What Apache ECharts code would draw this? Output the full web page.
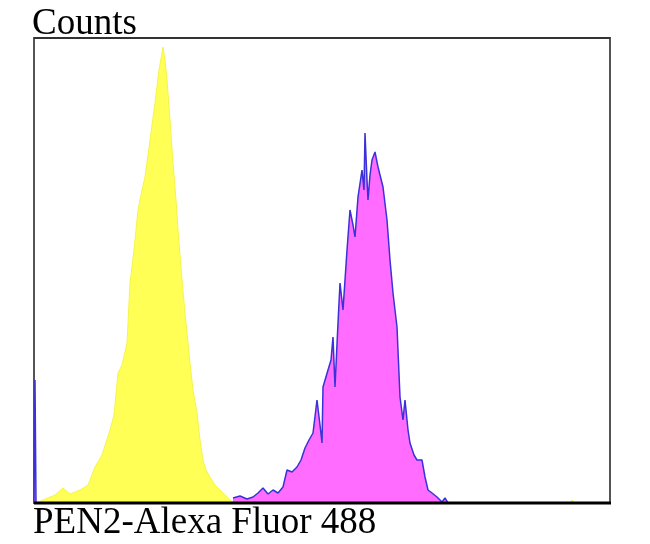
<!DOCTYPE html>
<html><head><meta charset="utf-8">
<script src="https://cdn.jsdelivr.net/npm/echarts@6/dist/echarts.min.js"></script>
<style>html,body{margin:0;padding:0;background:#fff}#c{width:650px;height:544px}</style>
</head><body><div id="c"></div>
<script>
// Fluorescence channel (x) and event counts (y)
const isotypeX = [2,9,21,29,36,46,54,61,68,76,80,84,88,93,96,100,104,108,111,116,121,125,129,131,133,136,139,142,144,148,151,156,159,163,166,169,172,176,181,186,191,196,201,202,534,535,538,541];
const isotypeY = [0,3,8,15,9,13,18,36,48,73,88,130,138,160,220,253,293,313,326,363,400,433,456,443,423,383,340,303,273,223,190,140,113,90,63,43,33,26,18,13,8,3,0,null,null,0,3,0];
const stainedX = [0,1,2,3,198,199,206,213,219,224,229,234,239,244,249,253,258,263,267,271,275,279,283,286,288,289,294,297,299,301,304,306,309,313,316,319,321,324,328,330,331,333,334,336,338,341,344,346,349,353,356,359,363,366,369,371,374,376,380,383,388,391,394,398,403,408,411,414];
const stainedY = [0,123,0,null,null,5,7,4,6,10,15,9,13,10,16,33,31,36,43,55,63,70,103,78,60,116,133,143,166,116,180,220,193,253,293,278,266,306,333,313,370,323,303,328,343,351,336,338,316,283,243,210,176,106,83,103,73,60,48,43,43,26,13,10,6,1,5,0];
const xLabel = 'PEN2-Alexa Fluor 488';
const yLabel = 'Counts';

const pair = (xs, ys) => xs.map((x, i) => [x, ys[i]]);
const chart = echarts.init(document.getElementById('c'), null, {renderer: 'canvas'});
chart.setOption({
  animation: false,
  grid: {left: 34, top: 38, right: 40, bottom: 41, show: true, borderColor: '#555', borderWidth: 2, backgroundColor: 'transparent'},
  xAxis: {type: 'value', min: 0, max: 576, axisLabel: {show: false}, axisTick: {show: false}, splitLine: {show: false},
    axisLine: {show: false}},
  yAxis: {type: 'value', min: 0, max: 465, axisLabel: {show: false}, axisTick: {show: false}, splitLine: {show: false},
    axisLine: {show: false}},
  series: [
    {type: 'line', data: pair(isotypeX, isotypeY), symbol: 'none', z: 1, connectNulls: false,
      lineStyle: {color: '#f4f44a', width: 1}, areaStyle: {color: '#ffff55', opacity: 1}},
    {type: 'line', data: pair(stainedX, stainedY), symbol: 'none', z: 2, connectNulls: false,
      lineStyle: {color: '#3a32d8', width: 1.5}, areaStyle: {color: '#ff6cff', opacity: 1}}
  ],
  graphic: [
    {type: 'line', z: 100, shape: {x1: 34, y1: 503, x2: 611, y2: 503}, style: {stroke: '#000', lineWidth: 3}},
    {type: 'line', z: 100, shape: {x1: 34, y1: 38, x2: 610, y2: 38}, style: {stroke: '#333', lineWidth: 2}},
    {type: 'text', left: 32, top: 6, style: {text: yLabel, font: '37px "Liberation Serif"', fill: '#000'}},
    {type: 'text', left: 33, top: 505, style: {text: xLabel, font: '37px "Liberation Serif"', fill: '#000'}}
  ]
});
</script></body></html>
